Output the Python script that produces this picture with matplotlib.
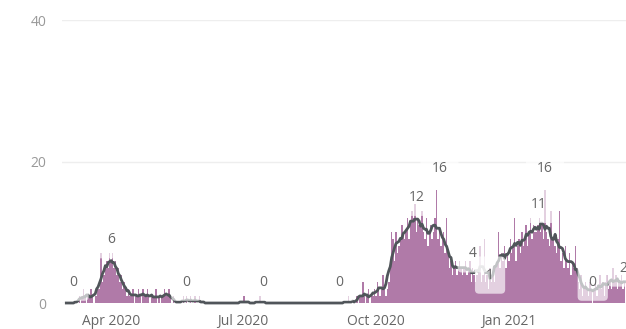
import numpy as np
import pandas as pd
import matplotlib.pyplot as plt
import matplotlib.dates as mdates

# daily counts
mar20 = [0, 0, 0, 0, 0, 0, 0, 0, 0, 1, 0, 1, 2, 1, 0, 1, 1, 2, 1, 0, 1,
         1, 2, 2, 7, 3, 4, 5, 6, 5, 7]
apr20 = [6, 7, 5, 6, 4, 5, 3, 4, 2, 3, 2, 1, 2, 1, 1, 2, 0, 1, 1, 2,
         1, 0, 2, 1, 1, 2, 1, 0, 1, 1]
may20 = [1, 2, 0, 1, 0, 1, 1, 2, 1, 1, 2, 1, 0, 1, 0, 0, 0, 0, 0, 0,
         1, 0, 1, 0, 0, 1, 0, 0, 1, 0, 0]
jun20 = [1] + [0] * 29
jul20 = [0, 1, 0, 0, 0, 0, 0, 0, 0, 0, 0, 0, 1] + [0] * 18
aug20 = [0] * 31
sep20 = [0, 0, 0, 0, 0, 0, 0, 0, 0, 0, 0, 1, 0, 0, 0, 0, 0,
         1, 0, 1, 1, 3, 1, 0, 1, 2, 0, 1, 1, 2]
oct20 = [1, 3, 2, 1, 2, 4, 2, 1, 2, 3,
         5, 10, 9, 6, 10, 7, 8, 9, 11, 10,
         9, 10, 12, 9, 11, 13, 12, 14, 10, 12, 11]
nov20 = [11, 13, 10, 9, 12, 8, 10, 11, 9, 10, 12, 16, 9, 10, 8,
         9, 10, 7, 12, 7, 5, 6, 4, 5, 6, 4, 5, 6, 5, 4]
dec20 = [5, 6, 4, 5, 6, 3, 5, 4, 3, 4,
         5, 8, 3, 4, 9, 3, 4, 2, 5, 3,
         4, 3, 5, 6, 10, 5, 7, 6, 8, 5, 7]
jan21 = [6, 9, 7, 8, 12, 6, 8, 9, 7, 10,
         8, 9, 11, 8, 10, 12, 9, 11, 10, 10,
         11, 12, 10, 11, 9, 16, 10, 9, 8, 13, 9]
feb21 = [9, 8, 7, 9, 13, 6, 7, 5, 8, 6,
         5, 7, 4, 6, 5, 8, 5, 3, 2, 4,
         1, 2, 3, 2, 1, 3, 2, 0]
mar21 = [2, 3, 1, 2, 4, 2, 3, 1, 3, 4, 2, 3, 2, 5, 3, 4, 2, 3, 3, 4, 2, 3]

daily = mar20 + apr20 + may20 + jun20 + jul20 + aug20 + sep20 + oct20 + nov20 + dec20 + jan21 + feb21 + mar21
dates = pd.date_range('2020-03-01', periods=len(daily), freq='D')
s = pd.Series(daily, index=dates)
avg7 = s.rolling(7, center=True, min_periods=1).mean()

# data labels
label_dates = pd.to_datetime(['2020-03-06', '2020-04-01', '2020-05-23', '2020-07-15', '2020-09-06',
                              '2020-10-29', '2020-11-14', '2020-12-07', '2020-12-19', '2021-01-22',
                              '2021-01-26', '2021-02-28', '2021-03-21'])
label_values = [0, 6, 0, 0, 0, 12, 16, 4, 1, 11, 16, 0, 2]

fig = plt.figure(figsize=(6.26, 3.29), dpi=100)
ax = fig.add_axes([0.099, 0.079, 0.901, 0.86])

ax.bar(dates, s.values, width=1.0, color='#b07aa8', edgecolor='none', zorder=2)
ax.plot(avg7.index, avg7.values, color='#50555a', lw=2, zorder=3, clip_on=False)

for d, v in zip(label_dates, label_values):
    ax.annotate(str(v), (d, v), xytext=(0, 15), textcoords='offset points',
                ha='center', va='center', fontsize=10, color='#666666',
                family='Open Sans', zorder=4, annotation_clip=False,
                bbox=dict(boxstyle='round,pad=0.8,rounding_size=0.3', fc='white', ec='none', alpha=0.65))

ax.set_ylim(0, 40)
ax.set_yticks([0, 20, 40])
ax.set_xlim(pd.Timestamp('2020-02-27'), pd.Timestamp('2021-03-23'))
ax.xaxis.set_major_locator(mdates.MonthLocator(bymonth=[1, 4, 7, 10]))
ax.xaxis.set_major_formatter(mdates.DateFormatter('%b %Y'))

ax.grid(axis='y', color='#eeeeee', lw=1, zorder=0)
for sp in ax.spines.values():
    sp.set_visible(False)
ax.tick_params(axis='y', length=0, pad=11, labelsize=10, labelcolor='#999999')
ax.tick_params(axis='x', length=0, pad=8, labelsize=10, labelcolor='#666666')
for lab in ax.get_xticklabels() + ax.get_yticklabels():
    lab.set_family('Open Sans')

fig.savefig('out.png', dpi=100)
